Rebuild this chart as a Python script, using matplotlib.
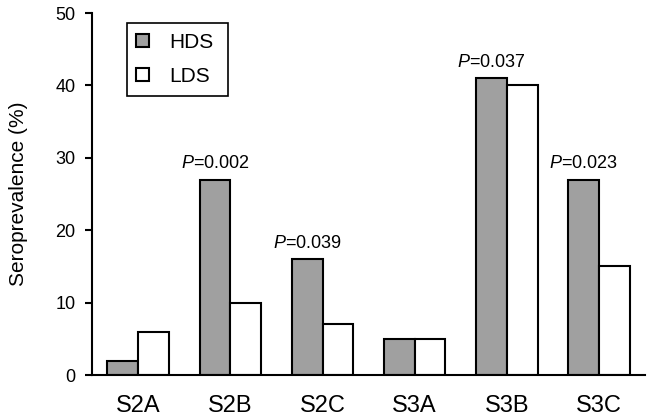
import numpy as np
import matplotlib
matplotlib.use("Agg")
import matplotlib.pyplot as plt

plt.rcParams['font.family'] = ['Liberation Sans', 'DejaVu Sans']
plt.rcParams['mathtext.fontset'] = 'custom'
plt.rcParams['mathtext.rm'] = 'Liberation Sans'
plt.rcParams['mathtext.it'] = 'Liberation Sans:italic'

# Data
categories = ["S2A", "S2B", "S2C", "S3A", "S3B", "S3C"]
hds = [2, 27, 16, 5, 41, 27]
lds = [6, 10, 7, 5, 40, 15]
p_labels = ["", "0.002", "0.039", "", "0.037", "0.023"]

fig = plt.figure(figsize=(6.5, 4.2), dpi=100)
ax = fig.add_axes([0.142, 0.107, 0.85, 0.862])

x = np.arange(len(categories))
w = 0.335
ax.bar(x - w / 2, hds, w, color="#a0a0a0", edgecolor="black", linewidth=1.5, label="HDS")
ax.bar(x + w / 2, lds, w, color="white", edgecolor="black", linewidth=1.5, label="LDS")

# P values above the HDS bars
for i, p in enumerate(p_labels):
    if p:
        ax.text(x[i] - w / 2, hds[i] + 1.0, r"$P$=" + p, ha="center", va="bottom", fontsize=13)

ax.set_xlim(-0.5, len(categories) - 0.5)
ax.set_ylim(0, 50)
ax.set_yticks([0, 10, 20, 30, 40, 50])
ax.set_xticks(x)
ax.set_xticklabels(categories, fontsize=17)
ax.tick_params(axis="y", labelsize=13, length=5, width=1.5, direction="out", pad=7)
ax.tick_params(axis="x", length=0, pad=14)
ax.set_ylabel("Seroprevalence (%)", fontsize=15, labelpad=20)

for s in ["top", "right"]:
    ax.spines[s].set_visible(False)
for s in ["left", "bottom"]:
    ax.spines[s].set_linewidth(1.5)

leg = ax.legend(loc="upper left", bbox_to_anchor=(0.0624, 0.0, 0.183, 0.972),
                mode="expand", fontsize=15, framealpha=1,
                frameon=True, fancybox=False, edgecolor="black",
                handlelength=0.6, handleheight=0.6, handletextpad=1.0,
                borderpad=0.45, labelspacing=0.75, borderaxespad=0)
leg.get_frame().set_linewidth(1.2)

fig.savefig("out.png", dpi=100)
